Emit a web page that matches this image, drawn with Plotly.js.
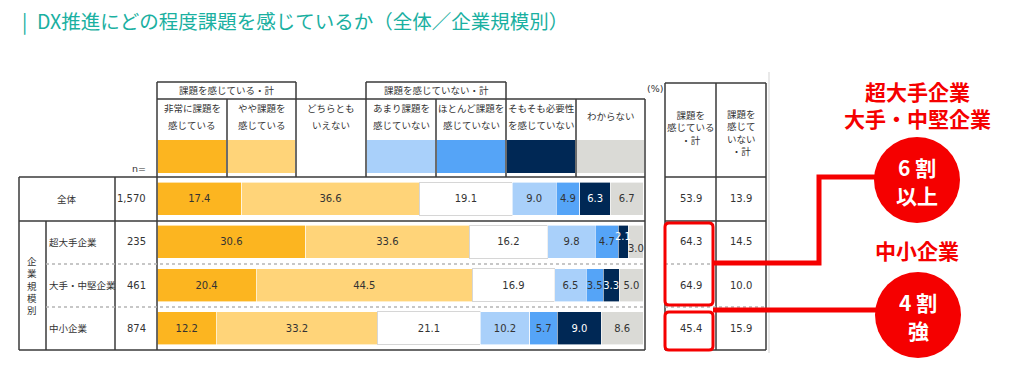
<!DOCTYPE html>
<html>
<head>
<meta charset="utf-8">
<script src="https://cdn.plot.ly/plotly-3.0.1.min.js"></script>
<style>html,body{margin:0;padding:0;background:#fff;}#chart{width:1024px;height:377px;}</style>
</head>
<body>
<div id="chart"></div>
<script>
// ---------------- data ----------------
const categories = ['全体', '超大手企業', '大手・中堅企業', '中小企業'];
const nValues = ['1,570', '235', '461', '874'];
const seriesNames = ['非常に課題を感じている', 'やや課題を感じている', 'どちらともいえない', 'あまり課題を感じていない', 'ほとんど課題を感じていない', 'そもそも必要性を感じていない', 'わからない'];
const headerLine1 = ['非常に課題を', 'やや課題を', 'どちらとも', 'あまり課題を', 'ほとんど課題を', 'そもそも必要性', 'わからない'];
const headerLine2 = ['感じている', '感じている', 'いえない', '感じていない', '感じていない', 'を感じていない', ''];
const veryMuch = [17.4, 30.6, 20.4, 12.2];
const somewhat = [36.6, 33.6, 44.5, 33.2];
const neutral = [19.1, 16.2, 16.9, 21.1];
const notMuch = [9.0, 9.8, 6.5, 10.2];
const hardly = [4.9, 4.7, 3.5, 5.7];
const noNeed = [6.3, 2.1, 3.3, 9.0];
const dontKnow = [6.7, 3.0, 5.0, 8.6];
const feelTotal = [53.9, 64.3, 64.9, 45.4];
const notFeelTotal = [13.9, 14.5, 10.0, 15.9];
const groupLabels = ['課題を感じている・計', '課題を感じていない・計'];
const sideTitle = '企業規模別';
const rightHeader1 = '課題を<br>感じている<br>・計';
const rightHeader2 = '課題を<br>感じて<br>いない<br>・計';
const calloutTop = ['超大手企業', '大手・中堅企業'];
const calloutBottom = '中小企業';
const circleTop = ['6 割', '以上'];
const circleBottom = ['4 割', '強'];
const titleText = '|\u2002DX推進にどの程度課題を感じているか（全体／企業規模別）';

// ---------------- styles ----------------
const colors = ['#FCB520', '#FFD479', '#FFFFFF', '#A9D0FA', '#55A4F7', '#002855', '#DADAD6'];
const textColors = ['#333', '#333', '#333', '#333', '#333', '#FFFFFF', '#333'];
const allSeries = [veryMuch, somewhat, neutral, notMuch, hardly, noNeed, dontKnow];
const W = 1024, H = 377;
const px = x => x / W;
const py = y => 1 - y / H;
const JP = '"Noto Sans CJK JP", "Noto Sans", sans-serif';
const NUM = '"DejaVu Sans", Verdana, sans-serif';
const lineCol = '#3a3a3a';
const red = '#F50000';

// labels drawn as offset annotations instead of centered bar text
const offsetLabels = [{s: 5, r: 1, dy: -5, dx: 0}, {s: 6, r: 1, dy: 7, dx: 0}];
const isOffset = (s, r) => offsetLabels.some(o => o.s === s && o.r === r);

const traces = allSeries.map((vals, s) => ({
  type: 'bar', orientation: 'h', name: seriesNames[s],
  y: categories, x: vals,
  text: vals.map((v, r) => isOffset(s, r) ? '' : v.toFixed(1)),
  textposition: 'inside', insidetextanchor: 'middle', constraintext: 'none', textangle: 0,
  textfont: {family: NUM, size: 10, color: textColors[s]},
  marker: {color: colors[s], line: {color: s === 2 ? '#d6d6d6' : '#ffffff', width: s === 2 ? 1 : 0.6}},
  hoverinfo: 'skip'
}));

const shapes = [];
function hl(x0, x1, y, opts = {}) {
  shapes.push({type: 'line', xref: 'paper', yref: 'paper', x0: px(x0), x1: px(x1), y0: py(y), y1: py(y),
    line: {color: opts.color || lineCol, width: opts.width || 1.5, dash: opts.dash || 'solid'}});
}
function vl(x, y0, y1, opts = {}) {
  shapes.push({type: 'line', xref: 'paper', yref: 'paper', x0: px(x), x1: px(x), y0: py(y0), y1: py(y1),
    line: {color: opts.color || lineCol, width: opts.width || 1.5, dash: opts.dash || 'solid'}});
}
function rect(x0, y0, x1, y1, fill) {
  shapes.push({type: 'rect', xref: 'paper', yref: 'paper', x0: px(x0), x1: px(x1), y0: py(y1), y1: py(y0),
    fillcolor: fill, line: {width: 0}, layer: 'below'});
}
function rrect(x0, y0, x1, y1, r, col, w) {
  const P = (x, y) => px(x) + ',' + py(y);
  const path = 'M' + P(x0 + r, y0) + ' L' + P(x1 - r, y0) + ' Q' + P(x1, y0) + ' ' + P(x1, y0 + r) +
    ' L' + P(x1, y1 - r) + ' Q' + P(x1, y1) + ' ' + P(x1 - r, y1) +
    ' L' + P(x0 + r, y1) + ' Q' + P(x0, y1) + ' ' + P(x0, y1 - r) +
    ' L' + P(x0, y0 + r) + ' Q' + P(x0, y0) + ' ' + P(x0 + r, y0) + ' Z';
  shapes.push({type: 'path', xref: 'paper', yref: 'paper', path: path, line: {color: col, width: w}});
}

// header columns
const colX = [157, 227, 296, 366, 436, 506, 576, 645];
hl(157, 645, 99);
colX.forEach(x => vl(x, 99, 177));
// group boxes
hl(157, 296, 82); vl(157, 82, 99); vl(296, 82, 99);
hl(366, 506, 82); vl(366, 82, 99); vl(506, 82, 99);
// swatches
colors.forEach((c, i) => rect(colX[i] + 1, 140, colX[i + 1] - 1, 173, c));
// main table
hl(19, 645, 177);
hl(19, 645, 221);
hl(19, 645, 350);
vl(19, 177, 350); vl(115, 177, 350); vl(46, 221, 350); vl(157, 177, 350); vl(645, 177, 350);
hl(46, 645, 264, {color: '#b5b5b5', width: 1.5, dash: 'dot'});
hl(46, 645, 307, {color: '#b5b5b5', width: 1.5, dash: 'dot'});
// right table
hl(665, 766, 83); hl(665, 766, 177); hl(665, 766, 221); hl(665, 766, 350);
vl(665, 83, 350); vl(716, 83, 350); vl(766, 83, 350);
hl(665, 766, 264, {color: '#b5b5b5', width: 1.5, dash: 'dot'});
hl(665, 766, 307, {color: '#b5b5b5', width: 1.5, dash: 'dot'});
// light separator
vl(769, 72, 353, {color: '#e2e2e2', width: 1.5});
// red highlights
rrect(665, 223, 713, 305, 4, red, 3);
rrect(665, 312, 713, 350, 4, red, 3);
shapes.push({type: 'path', xref: 'paper', yref: 'paper',
  path: 'M' + px(713) + ',' + py(263) + ' L' + px(819) + ',' + py(263) + ' L' + px(819) + ',' + py(177) + ' L' + px(880) + ',' + py(177),
  line: {color: red, width: 5}});
hl(713, 880, 310, {color: red, width: 5});
shapes.push({type: 'circle', xref: 'paper', yref: 'paper', x0: px(874), x1: px(960), y0: py(223), y1: py(137), fillcolor: red, line: {width: 0}});
shapes.push({type: 'circle', xref: 'paper', yref: 'paper', x0: px(875), x1: px(961), y0: py(358), y1: py(272), fillcolor: red, line: {width: 0}});

// annotations
const ann = [];
function txt(x, y, text, opts = {}) {
  ann.push(Object.assign({xref: 'paper', yref: 'paper', x: px(x), y: py(y), text: text, showarrow: false,
    xanchor: 'center', yanchor: 'middle',
    font: {family: JP, size: 9.5, color: '#333'}}, opts));
}
// group labels
txt(226.5, 90.5, groupLabels[0]);
txt(436, 90.5, groupLabels[1]);
// column headers
headerLine1.forEach((t, i) => {
  const cx = (colX[i] + colX[i + 1]) / 2;
  if (headerLine2[i]) { txt(cx, 108, t); txt(cx, 125, headerLine2[i]); }
  else txt(cx, 116, t);
});
txt(655, 88, '(%)', {font: {family: NUM, size: 9.5, color: '#333'}});
txt(148, 168, 'n=', {xanchor: 'right', font: {family: NUM, size: 9.5, color: '#333'}});
// right header
txt(690.5, 127, rightHeader1, {font: {family: JP, size: 9.5, color: '#333'}});
txt(741, 132, rightHeader2, {font: {family: JP, size: 9.5, color: '#333'}});
// side title (vertical)
txt(32, 285, sideTitle.split('').join('<br>'), {font: {family: JP, size: 9.5, color: '#333'}});

categories.forEach((c, r) => {
  if (r === 0) ann.push({xref: 'paper', yref: 'y', x: px(67), y: c, text: c, showarrow: false, xanchor: 'center', font: {family: JP, size: 9.5, color: '#333'}});
  else ann.push({xref: 'paper', yref: 'y', x: px(47), y: c, text: c, showarrow: false, xanchor: 'left', font: {family: JP, size: 9.5, color: '#333'}});
  ann.push({xref: 'paper', yref: 'y', x: px(148), y: c, text: nValues[r], showarrow: false, xanchor: 'right', font: {family: NUM, size: 10, color: '#333'}});
  ann.push({xref: 'paper', yref: 'y', x: px(690.5), y: c, text: feelTotal[r].toFixed(1), showarrow: false, xanchor: 'center', font: {family: NUM, size: 10, color: '#333'}});
  ann.push({xref: 'paper', yref: 'y', x: px(741), y: c, text: notFeelTotal[r].toFixed(1), showarrow: false, xanchor: 'center', font: {family: NUM, size: 10, color: '#333'}});
});
// offset bar labels
offsetLabels.forEach(o => {
  let start = 0;
  for (let s = 0; s < o.s; s++) start += allSeries[s][o.r];
  const mid = start + allSeries[o.s][o.r] / 2;
  ann.push({xref: 'x', yref: 'y', x: mid, y: categories[o.r], text: allSeries[o.s][o.r].toFixed(1), showarrow: false,
    xanchor: 'center', yshift: -o.dy, xshift: o.dx, font: {family: NUM, size: 10, color: textColors[o.s]}});
});
// callouts
const bigRed = {family: JP, size: 21, color: red, weight: 'bold'};
const bigWhite = {family: JP, size: 21, color: '#fff', weight: 'bold'};
txt(917, 91, calloutTop[0], {font: bigRed, height: 24});
txt(917, 118, calloutTop[1], {font: bigRed, height: 24});
txt(917, 250, calloutBottom, {font: bigRed, height: 24});
txt(917, 167, circleTop[0], {font: bigWhite, height: 26});
txt(917, 195, circleTop[1], {font: bigWhite, height: 26});
txt(918, 302, circleBottom[0], {font: bigWhite, height: 26});
txt(918, 330, circleBottom[1], {font: bigWhite, height: 26});

const layout = {
  width: W, height: H, margin: {l: 0, r: 0, t: 0, b: 0},
  paper_bgcolor: '#fff', plot_bgcolor: 'rgba(0,0,0,0)',
  title: {text: titleText, x: px(22), xanchor: 'left', xref: 'paper', y: 1 - 22 / H, yref: 'container', yanchor: 'middle',
    font: {family: JP, size: 19.5, color: '#1AB0A1'}},
  barmode: 'stack', bargap: 0.24, showlegend: false,
  uniformtext: {mode: 'show', minsize: 10},
  xaxis: {domain: [px(157), px(643)], range: [0, 100], visible: false, fixedrange: true},
  yaxis: {domain: [py(350), py(177)], type: 'category', autorange: 'reversed', visible: false, fixedrange: true},
  shapes: shapes, annotations: ann
};
Plotly.newPlot('chart', traces, layout, {displayModeBar: false, staticPlot: true});
</script>
</body>
</html>
